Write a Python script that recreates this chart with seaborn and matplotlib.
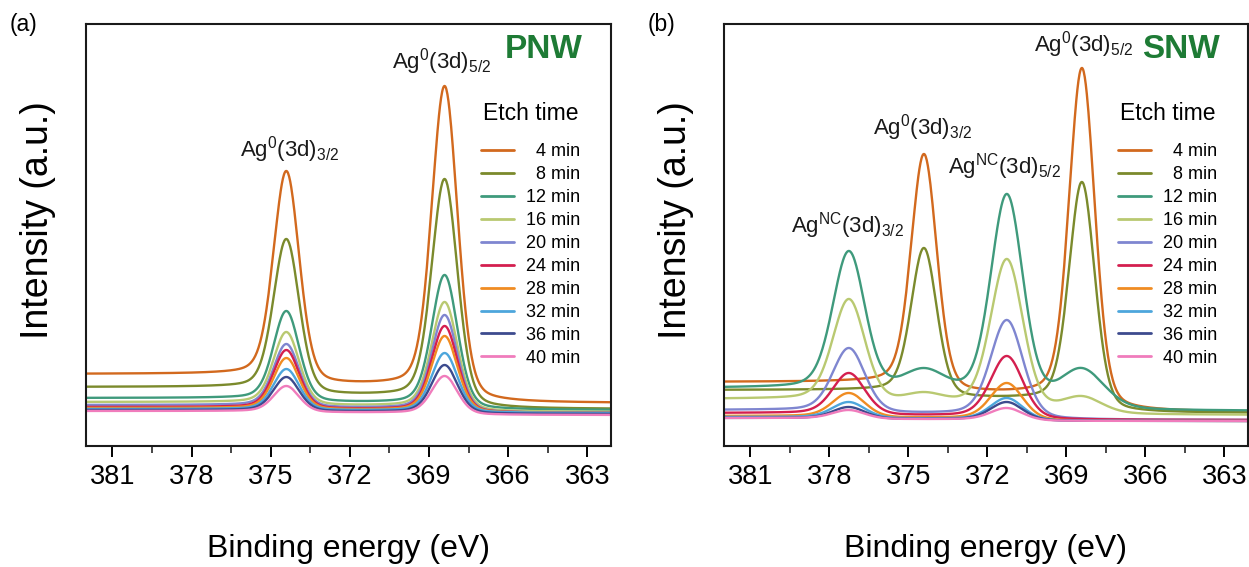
import numpy as np
import pandas as pd
import matplotlib
matplotlib.use("Agg")
import matplotlib.pyplot as plt
import seaborn as sns

# ---------------- data ----------------
etch_minutes = [4, 8, 12, 16, 20, 24, 28, 32, 36, 40]
etch_labels = ["  4 min", "  8 min", "12 min", "16 min", "20 min",
               "24 min", "28 min", "32 min", "36 min", "40 min"]
colors = ["#d2691e", "#7b8a2c", "#3f9a7c", "#b9c971", "#7f86d0",
          "#d41f4f", "#f08c22", "#4da6dc", "#3d4b8e", "#f07cbc"]

# PNW: total intensity at the peak centres and background levels (a.u.)
pnw_ag0_32 = [282, 214, 142, 121, 109, 103, 95, 84, 76, 67]
pnw_ag0_52 = [367, 274, 178, 151, 138, 127, 117, 100, 88, 77]
pnw_bg_high = [79, 66, 55, 51, 48, 46, 45, 44, 43, 42]
pnw_bg_low = [50, 44, 43, 41, 40, 40, 40, 40, 39, 38]

# SNW: Ag0 and Ag-NC components (nan = no component)
nan = np.nan
snw_ag0_32 = [299, 205, 85, 61, nan, nan, nan, nan, nan, nan]
snw_ag0_52 = [385, 271, 85, 57, nan, nan, nan, nan, nan, nan]
snw_nc_32 = [nan, nan, 202, 154, 105, 80, 60, 51, 46, 43]
snw_nc_52 = [nan, nan, 259, 194, 133, 97, 70, 55, 51, 45]
snw_bg_high = [71, 63, 65, 54, 43, 40, 37, 36, 35, 35]
snw_bg_low = [41, 40, 42, 38, 33, 33, 32, 32, 32, 32]
snw_ag0_fwhm = [1.15, 1.15, 2.0, 1.8, 1.15, 1.15, 1.15, 1.15, 1.15, 1.15]

# peak positions (eV)
pos_ag0_32, pos_ag0_52 = 374.4, 368.4
pos_nc_32, pos_nc_52 = 377.25, 371.25

energy = np.linspace(362.0, 382.0, 1001)


def pvoigt(x, c, fwhm, eta=0.25):
    d = (x - c) / fwhm
    return (1 - eta) * np.exp(-4 * np.log(2) * d ** 2) + eta / (1 + 4 * d ** 2)


def spectrum(totals, centres, widths, bg_high, bg_low):
    """Peaks on a Shirley background; amplitudes adjusted so the curve
    passes through the read total intensities at the peak centres."""
    use = [i for i, t in enumerate(totals) if not np.isnan(t)]
    amps = np.zeros(len(totals))
    for i in use:
        amps[i] = max(totals[i] - bg_low, 0)

    def model(a):
        p = np.zeros_like(energy)
        for i in use:
            p += a[i] * pvoigt(energy, centres[i], widths[i])
        cum = np.concatenate([[0], np.cumsum((p[1:] + p[:-1]) / 2)])
        frac = cum / cum[-1] if cum[-1] > 0 else np.zeros_like(cum)
        return p + bg_low + (bg_high - bg_low) * frac

    for _ in range(60):
        y = model(amps)
        for i in use:
            yc = np.interp(centres[i], energy, y)
            amps[i] = max(amps[i] + 0.8 * (totals[i] - yc), 0)
    return model(amps)


rows_a, rows_b = [], []
for k, lab in enumerate(etch_labels):
    ya = spectrum([pnw_ag0_32[k], pnw_ag0_52[k]], [pos_ag0_32, pos_ag0_52],
                  [1.15, 1.15], pnw_bg_high[k], pnw_bg_low[k])
    rows_a.append(pd.DataFrame({"energy": energy, "intensity": ya, "etch": lab}))
    yb = spectrum([snw_ag0_32[k], snw_ag0_52[k], snw_nc_32[k], snw_nc_52[k]],
                  [pos_ag0_32, pos_ag0_52, pos_nc_32, pos_nc_52],
                  [snw_ag0_fwhm[k], snw_ag0_fwhm[k], 1.45, 1.45],
                  snw_bg_high[k], snw_bg_low[k])
    rows_b.append(pd.DataFrame({"energy": energy, "intensity": yb, "etch": lab}))
df_a = pd.concat(rows_a, ignore_index=True)
df_b = pd.concat(rows_b, ignore_index=True)

# ---------------- styling ----------------
sns.set_style("white")
plt.rcParams["font.family"] = ["Liberation Sans", "DejaVu Sans"]
plt.rcParams["text.color"] = "black"
plt.rcParams["axes.labelcolor"] = "black"
plt.rcParams["mathtext.fontset"] = "custom"
plt.rcParams["mathtext.rm"] = "Liberation Sans"
plt.rcParams["mathtext.it"] = "Liberation Sans:italic"
plt.rcParams["mathtext.bf"] = "Liberation Sans:bold"

W, H = 1249, 567
fig = plt.figure(figsize=(W / 100, H / 100), dpi=100)
palette = dict(zip(etch_labels, colors))
TOP, BOT = 24, 446


def px_axes(l, r):
    return fig.add_axes([l / W, 1 - BOT / H, (r - l) / W, (BOT - TOP) / H])


ax_a = px_axes(86, 611)
ax_b = px_axes(724, 1248)

for ax, df, tag, name in [(ax_a, df_a, "(a)", "PNW"), (ax_b, df_b, "(b)", "SNW")]:
    sns.lineplot(data=df, x="energy", y="intensity", hue="etch",
                 hue_order=etch_labels, palette=palette, sort=False,
                 estimator=None, linewidth=1.7, ax=ax, legend=False)
    ax.set_xlim(382.0, 362.1)
    ax.set_ylim(453 - BOT, 453 - TOP)
    ax.set_xticks([381, 378, 375, 372, 369, 366, 363])
    ax.set_xticks(np.arange(379.5, 362, -3), minor=True)
    ax.set_yticks([])
    ax.tick_params(axis="x", which="major", direction="out", length=8, width=1.4,
                   labelsize=19.5, pad=5, bottom=True, colors="black")
    ax.tick_params(axis="x", which="minor", direction="out", length=5, width=1.2,
                   bottom=True)
    for s in ax.spines.values():
        s.set_visible(True)
        s.set_color("#1a1a1a")
        s.set_linewidth(1.5)
    ax.set_xlabel("Binding energy (eV)", fontsize=23, labelpad=32)
    ax.set_ylabel("Intensity (a.u.)", fontsize=27, labelpad=18)
    ax.yaxis.set_label_coords(-0.058, (453 - 220 - (453 - BOT)) / (BOT - TOP))
    handles = [plt.Line2D([], [], color=c, lw=2.0) for c in colors]
    leg = ax.legend(handles, etch_labels, title="Etch time", loc="upper right",
                    bbox_to_anchor=(0.942, 0.815), frameon=False, fontsize=13,
                    title_fontsize=16.5, handlelength=1.8, handletextpad=0.7,
                    labelspacing=0.33, borderaxespad=0, borderpad=0)
    leg._legend_box.sep = 13
    ax.text(-0.145, 1.0, tag, transform=ax.transAxes,
            fontsize=16.5, ha="left", va="center")
    ax.text(364.65, 404, name, fontsize=24, fontweight="bold", color="#1e7b35",
            ha="center", va="center")

ann = dict(fontsize=16, ha="center", va="center", color="#1a1a1a")
ax_a.text(374.27, 303, r"Ag$^\mathrm{0}$(3d)$_\mathrm{3/2}$", **ann)
ax_a.text(368.52, 391, r"Ag$^\mathrm{0}$(3d)$_\mathrm{5/2}$", **ann)
ax_b.text(368.33, 408, r"Ag$^\mathrm{0}$(3d)$_\mathrm{5/2}$", **ann)
ax_b.text(374.47, 325, r"Ag$^\mathrm{0}$(3d)$_\mathrm{3/2}$", **ann)
ax_b.text(371.34, 286, r"Ag$^\mathrm{NC}$(3d)$_\mathrm{5/2}$", **ann)
ax_b.text(377.3, 227, r"Ag$^\mathrm{NC}$(3d)$_\mathrm{3/2}$", **ann)

fig.savefig("out.png", dpi=100, facecolor="white")
